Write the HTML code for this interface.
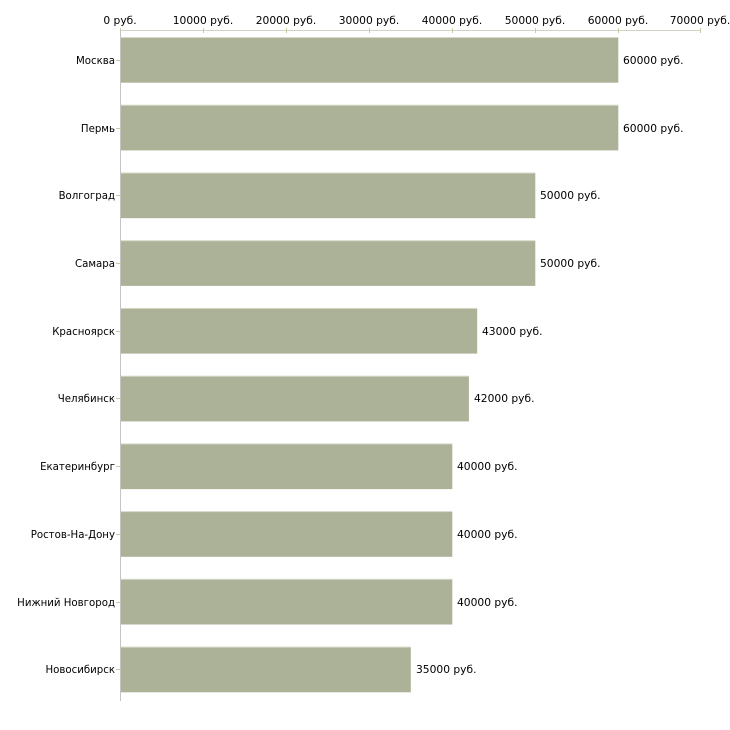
<!DOCTYPE html>
<html><head><meta charset="utf-8"><style>
html,body{margin:0;padding:0;background:#fff;}
svg{display:block;}
text{font-family:"DejaVu Sans","Liberation Sans",sans-serif;font-size:10.7px;fill:#000;}
text.cat{font-size:10.2px;}
</style></head><body>
<svg width="730" height="730" xmlns="http://www.w3.org/2000/svg">
<rect width="730" height="730" fill="#fff"/>
<!-- top axis -->
<line x1="120" y1="30.5" x2="701" y2="30.5" stroke="#d2d2c4" stroke-width="1"/>
<g stroke="#c9cca0" stroke-width="1">
<line x1="120.5" y1="28" x2="120.5" y2="33"/>
<line x1="203.5" y1="28" x2="203.5" y2="33"/>
<line x1="286.5" y1="28" x2="286.5" y2="33"/>
<line x1="369.5" y1="28" x2="369.5" y2="33"/>
<line x1="452.5" y1="28" x2="452.5" y2="33"/>
<line x1="535.5" y1="28" x2="535.5" y2="33"/>
<line x1="618.5" y1="28" x2="618.5" y2="33"/>
<line x1="700.5" y1="28" x2="700.5" y2="33"/>
</g>
<g text-anchor="middle">
<text x="120" y="24">0 руб.</text>
<text x="203" y="24">10000 руб.</text>
<text x="286" y="24">20000 руб.</text>
<text x="369" y="24">30000 руб.</text>
<text x="452" y="24">40000 руб.</text>
<text x="535" y="24">50000 руб.</text>
<text x="618" y="24">60000 руб.</text>
<text x="700" y="24">70000 руб.</text>
</g>
<!-- bars -->
<g fill="#acb298">
<rect x="121" y="37.7" width="497.3" height="45"/>
<rect x="121" y="105.4" width="497.3" height="45"/>
<rect x="121" y="173.2" width="414.3" height="45"/>
<rect x="121" y="240.9" width="414.3" height="45"/>
<rect x="121" y="308.6" width="356.2" height="45"/>
<rect x="121" y="376.4" width="347.9" height="45"/>
<rect x="121" y="444.1" width="331.3" height="45"/>
<rect x="121" y="511.8" width="331.3" height="45"/>
<rect x="121" y="579.5" width="331.3" height="45"/>
<rect x="121" y="647.3" width="289.8" height="45"/>
</g>
<g fill="#d6d9c9">
<rect x="121" y="37" width="497.3" height="1"/>
<rect x="121" y="104.7" width="497.3" height="1"/>
<rect x="121" y="172.5" width="414.3" height="1"/>
<rect x="121" y="240.2" width="414.3" height="1"/>
<rect x="121" y="307.9" width="356.2" height="1"/>
<rect x="121" y="375.7" width="347.9" height="1"/>
<rect x="121" y="443.4" width="331.3" height="1"/>
<rect x="121" y="511.1" width="331.3" height="1"/>
<rect x="121" y="578.8" width="331.3" height="1"/>
<rect x="121" y="646.6" width="289.8" height="1"/>
</g>
<!-- left axis -->
<line x1="120.5" y1="30" x2="120.5" y2="701" stroke="#c4c4c4" stroke-width="1"/>
<g stroke="#c9cca0" stroke-width="1">
<line x1="116" y1="60.5" x2="120" y2="60.5"/>
<line x1="116" y1="128.5" x2="120" y2="128.5"/>
<line x1="116" y1="195.5" x2="120" y2="195.5"/>
<line x1="116" y1="263.5" x2="120" y2="263.5"/>
<line x1="116" y1="331.5" x2="120" y2="331.5"/>
<line x1="116" y1="398.5" x2="120" y2="398.5"/>
<line x1="116" y1="466.5" x2="120" y2="466.5"/>
<line x1="116" y1="534.5" x2="120" y2="534.5"/>
<line x1="116" y1="602.5" x2="120" y2="602.5"/>
<line x1="116" y1="669.5" x2="120" y2="669.5"/>
</g>
<g text-anchor="end">
<text class="cat" x="115" y="64">Москва</text>
<text class="cat" x="115" y="132">Пермь</text>
<text class="cat" x="115" y="199">Волгоград</text>
<text class="cat" x="115" y="267">Самара</text>
<text class="cat" x="115" y="335">Красноярск</text>
<text class="cat" x="115" y="402">Челябинск</text>
<text class="cat" x="115" y="470">Екатеринбург</text>
<text class="cat" x="115" y="538">Ростов-На-Дону</text>
<text class="cat" x="115" y="606">Нижний Новгород</text>
<text class="cat" x="115" y="673">Новосибирск</text>
</g>
<g>
<text x="623" y="64">60000 руб.</text>
<text x="623" y="132">60000 руб.</text>
<text x="540" y="199">50000 руб.</text>
<text x="540" y="267">50000 руб.</text>
<text x="482" y="335">43000 руб.</text>
<text x="474" y="402">42000 руб.</text>
<text x="457" y="470">40000 руб.</text>
<text x="457" y="538">40000 руб.</text>
<text x="457" y="606">40000 руб.</text>
<text x="416" y="673">35000 руб.</text>
</g>
</svg>
</body></html>
